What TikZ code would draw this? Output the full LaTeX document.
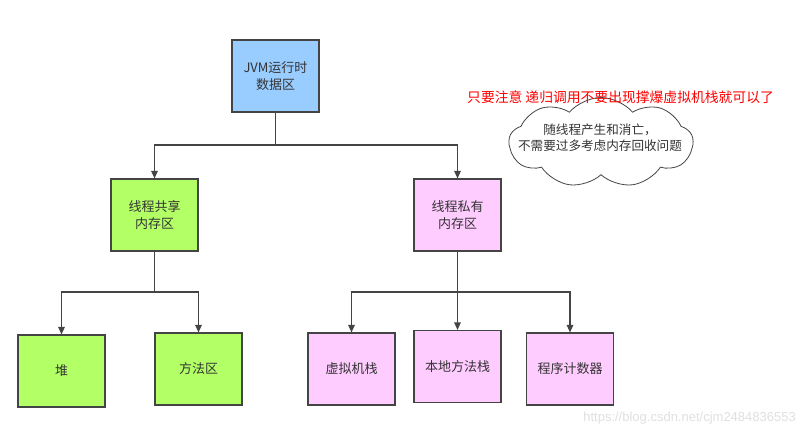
\documentclass[tikz,border=0pt]{standalone}
\usepackage{fontspec}
\setmainfont{Liberation Sans}
\newfontfamily\cjk{Noto Sans CJK SC}
\usetikzlibrary{arrows.meta,shapes.symbols}
\definecolor{txt}{HTML}{333333}
\definecolor{edge}{HTML}{444444}
\definecolor{jvmblue}{HTML}{99CCFF}
\definecolor{sharegreen}{HTML}{B3FF66}
\definecolor{privpink}{HTML}{FFCCFF}
\begin{document}
\begin{tikzpicture}[x=1pt,y=-1pt,
  box/.style={draw=edge,line width=1.1pt,minimum width=87pt,minimum height=72pt,inner sep=0pt,align=center,text=txt,font=\cjk\fontsize{13}{17}\selectfont},
  conn/.style={draw=edge,line width=1.1pt},
  arr/.style={conn,-{Triangle[length=7.5pt,width=6.5pt]}}]
\useasboundingbox (0,0) rectangle (805,439);
\fill[white] (0,0) rectangle (805,439);
% nodes
\node[box,fill=jvmblue] (jvm) at (275.5,76) {JVM运行时\\数据区};
\node[box,fill=sharegreen] (share) at (154.5,215) {线程共享\\内存区};
\node[box,fill=privpink] (priv) at (457.5,215) {线程私有\\内存区};
\node[box,fill=sharegreen] (heap) at (61.5,371) {堆};
\node[box,fill=sharegreen] (method) at (198.5,369) {方法区};
\node[box,fill=privpink] (vstack) at (351.5,369) {虚拟机栈};
\node[box,fill=privpink] (nstack) at (457.5,366.5) {本地方法栈};
\node[box,fill=privpink] (pc) at (570,369) {程序计数器};
% junctions
\coordinate (j1) at (275.5,145);
\coordinate (j2) at (154.5,292);
\coordinate (j3) at (457.5,292);
\draw[conn] (jvm.south) -- (j1);
\draw[arr] (j1) -| (share.north);
\draw[arr] (j1) -| (priv.north);
\draw[conn] (share.south) -- (j2);
\draw[arr] (j2) -| (heap.north);
\draw[arr] (j2) -| (method.north);
\draw[conn] (priv.south) -- (j3);
\draw[arr] (j3) -| (vstack.north);
\draw[arr] (j3) -| (nstack.north);
\draw[arr] (j3) -| (pc.north);
% cloud
\node[cloud,cloud puffs=9,cloud puff arc=100,cloud ignores aspect,draw=edge,line width=0.8pt,fill=white,minimum width=184pt,minimum height=90pt,inner sep=0pt] (cloud) at (601,142.5) {};
\node[text=txt,align=center,font=\cjk\fontsize{12.6}{16.5}\selectfont] (cloudtxt) at (600,137.5) {随线程产生和消亡，\\不需要过多考虑内存回收问题};
% red note
\node[anchor=west,text=red,inner sep=0pt,font=\cjk\fontsize{13.8}{16}\selectfont] (note) at (467,97) {只要注意 递归调用不要出现撑爆虚拟机栈就可以了};
% watermark
\node[anchor=east,text=black!12,inner sep=0pt,font=\fontsize{13}{15}\selectfont] (wm) at (796,418) {https://blog.csdn.net/cjm2484836553};
\end{tikzpicture}
\end{document}
